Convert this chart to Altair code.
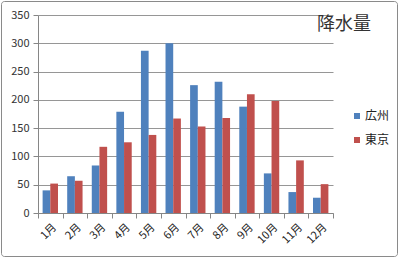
import altair as alt
import pandas as pd

months = ["1月", "2月", "3月", "4月", "5月", "6月", "7月", "8月", "9月", "10月", "11月", "12月"]
cities = ["広州", "東京"]
guangzhou = [40, 65, 84, 179, 287, 300, 226, 232, 188, 70, 37, 27]
tokyo = [52, 57, 117, 125, 138, 167, 153, 168, 210, 198, 93, 51]
y_ticks = [0, 50, 100, 150, 200, 250, 300, 350]
title_text = "降水量"
colors = ["#4F81BD", "#C0504D"]

rows = []
for i, m in enumerate(months):
    rows.append({"month": m, "city": cities[0], "value": guangzhou[i]})
    rows.append({"month": m, "city": cities[1], "value": tokyo[i]})
df = pd.DataFrame(rows)

FONT = "Noto Sans CJK JP"
W, H = 295, 198

bars = alt.Chart(df).mark_bar().encode(
    x=alt.X("month:N", sort=months,
            scale=alt.Scale(paddingInner=0, paddingOuter=0),
            axis=alt.Axis(title=None, labelAngle=-45, tickBand="extent",
                          labelFontSize=11, labelColor="#222222", labelFont=FONT,
                          domainColor="#868686", tickColor="#868686", tickSize=5,
                          labelPadding=3, grid=False)),
    xOffset=alt.XOffset("city:N", sort=cities,
                        scale=alt.Scale(paddingInner=0, paddingOuter=0.6)),
    y=alt.Y("value:Q", scale=alt.Scale(domain=[0, 350], nice=False),
            axis=alt.Axis(title=None, values=y_ticks, labelFontSize=11,
                          labelColor="#333333", labelFont=FONT,
                          domainColor="#868686", tickColor="#868686", tickSize=5,
                          labelPadding=4, gridColor="#969696")),
    color=alt.Color("city:N", sort=cities,
                    scale=alt.Scale(domain=cities, range=colors),
                    legend=alt.Legend(title=None, orient="none", legendX=313, legendY=95,
                                      symbolType="square", symbolSize=36,
                                      symbolStrokeWidth=0, labelFontSize=12,
                                      labelFont=FONT, labelColor="#222222",
                                      labelOffset=2, rowPadding=12)),
)

tdf = pd.DataFrame({"t": [title_text]})
title = alt.Chart(tdf).mark_text(fontSize=18, font=FONT, color="#333333",
                                 align="center", baseline="middle").encode(
    text="t:N", x=alt.value(306), y=alt.value(10))

border = alt.Chart(tdf).mark_rect(fillOpacity=0, stroke="#8a8a8a", strokeWidth=1,
                                  cornerRadius=3).encode(
    x=alt.value(-36.5), x2=alt.value(359.5), y=alt.value(-13.5), y2=alt.value(241.5))

chart = alt.layer(bars, title, border).properties(
    width=W, height=H,
    autosize=alt.AutoSizeParams(type="none"),
    padding={"left": 38, "top": 15, "right": 67, "bottom": 45},
    background="white",
).configure_view(strokeWidth=0)

chart.save("out.html", embed_options={"renderer": "svg", "actions": False})
